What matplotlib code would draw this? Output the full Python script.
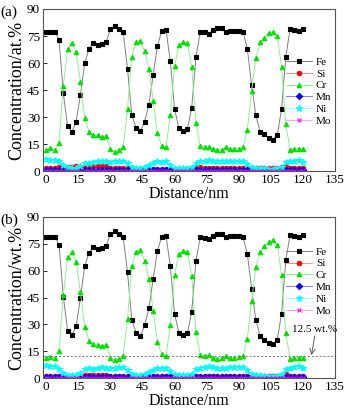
import numpy as np
import matplotlib.pyplot as plt

plt.rcParams['font.family'] = ['Liberation Serif', 'DejaVu Serif']

distance = np.arange(0, 121, 2)

# panel (a): at.%
fe_at = [77, 77, 77.5, 73, 43.5, 25, 22, 27.5, 42.5, 60, 68, 71, 70, 70.5, 71.5,
         79, 80.5, 79, 77, 57, 31, 24, 22.5, 27.5, 37, 53.5, 69.5, 78, 78.5, 61,
         34.5, 24, 22.5, 23.5, 35, 63.5, 77, 77, 76, 78.5, 79.5, 79.5, 77.5, 78,
         78, 78, 77.5, 68, 48, 31, 22, 20.5, 18.5, 17.5, 20, 34.5, 63.5, 79, 78.5,
         78, 79]
cr_at = [12, 13, 12, 16, 47.5, 68, 71, 66, 49.5, 29.5, 22, 20, 20, 19, 19.5,
         12.5, 11, 12, 13.5, 34.5, 63.5, 71.5, 72.5, 66.5, 57, 39, 21, 14, 13.5, 31,
         58.5, 70, 71.5, 71, 58, 27, 14, 13.5, 13.5, 12.5, 12, 12, 13.5, 12.5,
         12.5, 12.5, 13.5, 23, 44.5, 63, 71.5, 74, 76.5, 77, 75, 58, 26, 12, 12.5,
         12.5, 12.5]
ni_at = [7, 6.5, 6.5, 5.5, 3.5, 2.5, 2, 2, 3, 4.5, 4.5, 5, 6, 6, 5.5,
         5, 5.5, 6, 6, 4.5, 2.5, 2, 2, 2.5, 3.5, 4.5, 5.5, 5, 5.5, 3.5,
         2, 2, 2, 2, 2.5, 4.5, 5.5, 6, 6.5, 6, 5.5, 5.5, 5.5, 6,
         6, 6, 5.5, 4, 2.5, 2, 2, 2, 1.5, 1.5, 2, 2.5, 5, 6, 6,
         6.5, 5]
si_at = [2, 2, 2, 2.5, 2.5, 2.5, 2.5, 3, 2.5, 3, 3, 3, 3, 3, 3,
         2, 2, 2, 2, 2, 1.5, 1.5, 1.5, 1.5, 1.5, 1.5, 1.5, 1.5, 1.5, 1.5,
         1.5, 1.5, 1.5, 1.5, 2, 2.5, 2.5, 2, 2, 2, 2, 2, 2, 2,
         2, 2, 2, 2, 2, 2, 2, 2, 2, 2, 2, 2.5, 3.5, 2, 2,
         2, 2]
mn_at = [1] * 61
mo_at = [0.3] * 61

# panel (b): wt.%
fe_wt = [78.5, 78.5, 79, 74.5, 45.5, 26.5, 24, 29, 45, 62.5, 70, 73, 72, 72.5, 73.5,
         80.5, 82, 80.5, 78.5, 59, 32.5, 25.5, 23.5, 29.5, 39, 55.5, 71, 79, 79.5, 62.5,
         36, 25.5, 24, 25, 37, 65.5, 78.5, 78, 77.5, 79.5, 80.5, 80.5, 79, 79.5,
         79.5, 79.5, 78.5, 69.5, 50, 32.5, 23.5, 21.5, 19.5, 19, 21.5, 36, 66, 80, 79.5,
         79, 80]
cr_wt = [11.5, 12, 11.5, 15.5, 46.5, 67.5, 70.5, 65, 48, 28.5, 21, 19, 18.5, 18, 18.5,
         11.5, 10, 11, 12.5, 33, 62.5, 70.5, 71.5, 65.5, 55.5, 37.5, 20, 13.5, 12.5, 29.5,
         57.5, 69.5, 71, 70.5, 57, 26, 13, 12.5, 13, 11.5, 11, 11.5, 12.5, 11.5,
         11.5, 12, 12.5, 22, 43, 62, 70.5, 73.5, 76, 77, 74.5, 57.5, 25, 11, 11.5,
         11.5, 11.5]
ni_wt = [7.5, 7, 7, 5, 3, 2, 2, 2, 3, 5, 5.5, 5, 6, 6.5, 5.5,
         5.5, 6, 6.5, 6.5, 4.5, 2.5, 2, 2, 2.5, 3.5, 4.5, 6, 5.5, 6, 4,
         2.5, 2, 2, 2, 2.5, 5, 6, 6.5, 7, 6.5, 6, 6, 6, 6.5,
         6.5, 6.5, 6.5, 4.5, 2.5, 2, 2, 1.5, 1.5, 1.5, 1.5, 2.5, 5, 6, 6.5,
         7, 5.5]
si_wt = [1.2] * 9 + [1.8] * 6 + [1.2] * 41 + [2.5] + [1.2] * 4
mn_wt = [1] * 61
mo_wt = [0.3] * 61

elements = ["Fe", "Si", "Cr", "Mn", "Ni", "Mo"]
styles = {
    "Fe": dict(marker="s", color="black", lc="#808080"),
    "Si": dict(marker="o", color="red", lc="#ff9090"),
    "Cr": dict(marker="^", color="#00e000", lc="#90f090"),
    "Mn": dict(marker="D", color="blue", lc="#8080ff"),
    "Ni": dict(marker="*", color="cyan", lc="#a0ffff"),
    "Mo": dict(marker="x", color="magenta", lc="#ffa0ff"),
}

fig = plt.figure(figsize=(3.51, 4.09), dpi=100)
ax_a = fig.add_axes([0.1225, 0.581, 0.832, 0.397])
ax_b = fig.add_axes([0.1225, 0.075, 0.832, 0.395])

panels = [
    (ax_a, [fe_at, si_at, cr_at, mn_at, ni_at, mo_at], "Concentration/at.%", "(a)", 0.745),
    (ax_b, [fe_wt, si_wt, cr_wt, mn_wt, ni_wt, mo_wt], "Concentration/wt.%", "(b)", 0.855),
]

for ax, series, ylabel, tag, leg_top in panels:
    for name, vals in zip(elements, series):
        st = styles[name]
        ms = 4.5 if name == "Ni" else 3.2
        ax.plot(distance, vals, color=st["lc"], lw=0.7, marker=st["marker"],
                ms=ms, mfc=st["color"], mec=st["color"], mew=0.8, label=name)
    ax.set_xlim(-1.5, 135)
    ax.set_ylim(0, 90)
    ax.set_xticks(np.arange(0, 136, 15))
    ax.set_yticks(np.arange(0, 91, 15))
    ax.tick_params(direction="in", labelsize=9.5, length=3, width=0.6, pad=2)
    for sp in ax.spines.values():
        sp.set_color("#555555")
        sp.set_linewidth(0.8)
    ax.set_xlabel("Distance/nm", fontsize=11.5, labelpad=0)
    ax.set_ylabel(ylabel, fontsize=13, labelpad=1)
    ax.text(-0.145, 0.955, tag, transform=ax.transAxes, fontsize=11)
    ax.legend(loc="upper right", bbox_to_anchor=(1.01, leg_top), frameon=False,
              fontsize=8, handlelength=2.4, handletextpad=0.3,
              labelspacing=0.18, borderaxespad=0.2)

ax_b.axhline(12.5, color="#777777", lw=0.7, ls=(0, (2, 2)))
ax_b.text(115, 24.5, "12.5 wt.%", fontsize=8, ha="left", va="bottom")
ax_b.annotate("", xy=(124, 13), xytext=(125.5, 23.5),
              arrowprops=dict(arrowstyle="->", color="#444444",
                              lw=0.6, shrinkA=0, shrinkB=0))

fig.savefig("out.png", dpi=100)
